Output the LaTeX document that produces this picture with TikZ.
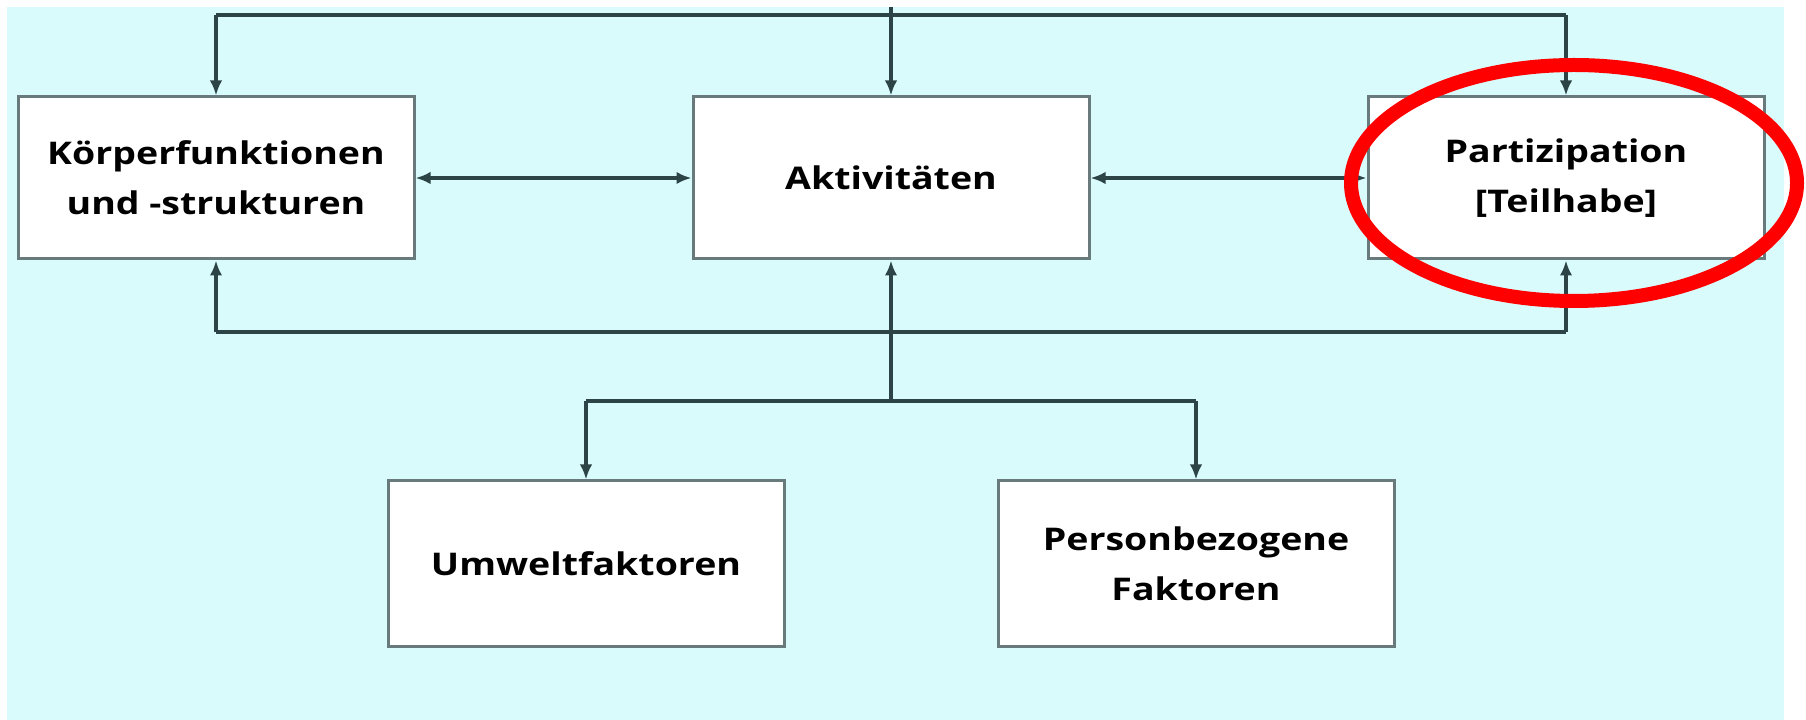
\documentclass[tikz,border=0pt]{standalone}
\usepackage{fontspec}
\usepackage{tikz}
\usetikzlibrary{arrows.meta,calc,shapes}
\newfontfamily\icffont{Open Sans}[FakeStretch=1.2]
\definecolor{bgcyan}{RGB}{218,251,251}
\definecolor{linegray}{RGB}{45,68,70}
\definecolor{boxgray}{RGB}{105,122,124}

\begin{document}
\begin{tikzpicture}
\tikzstyle{rect}=[rectangle, draw=boxgray, line width=1.2pt, fill=white, align=center, node distance=270pt, minimum width=158.4pt, minimum height=64.8pt, font=\icffont\bfseries\fontsize{12.5}{20}\selectfont]
\tikzstyle{low}=[rect, minimum height=66.4pt]
\tikzstyle{line}=[draw=linegray, line width=1.3pt]
\tikzstyle{connect}=[line, -{Latex[length=6pt,width=5pt]}]
\tikzstyle{both}=[line, {Latex[length=6pt,width=5pt]}-{Latex[length=6pt,width=5pt]}]

  \useasboundingbox (0,0) rectangle (722.4pt,-288pt);
  \fill[bgcyan] (2.8pt,-2.8pt) rectangle (713.6pt,-288pt);

  \node[rect] (koerper)  at (86.4pt,-71.2pt)                    {K\"orperfunktionen\\und -strukturen};
  \node[rect] (akt)      [right of =koerper]                    {Aktivit\"aten};
  \node[rect] (partizip) [right of =akt]                        {Partizipation\\{[}Teilhabe{]}};

  \node[low]  (umwelt)   [below of =akt, xshift=-122pt, yshift=115.6pt] {Umweltfaktoren};
  \node[low]  (person)   [below of =akt, xshift=122pt,  yshift=115.6pt] {Personbezogene\\Faktoren};

  % rails above, below and between the rows
  \coordinate (top)    at (akt.north |- 0,-2.8pt);
  \coordinate (tk)     at (koerper.north |- 0,-6pt);
  \coordinate (tp)     at (partizip.north |- 0,-6pt);
  \coordinate (bk)     at (koerper.south |- 0,-132.8pt);
  \coordinate (bp)     at (partizip.south |- 0,-132.8pt);
  \coordinate (ba)     at (akt.south |- 0,-160.4pt);
  \coordinate (bu)     at (umwelt.north |- 0,-160.4pt);
  \coordinate (bpf)    at (person.north |- 0,-160.4pt);

  \path[line] (tk) -- (tp);
  \path[line] (bk) -- (bp);
  \path[line] (bu) -- (bpf);

  \path[connect] (top) -- (akt.north);
  \path[connect] (tk) -- (koerper.north);
  \path[connect] (tp) -- (partizip.north);
  \path[connect] (bk) -- (koerper.south);
  \path[connect] (bp) -- (partizip.south);
  \path[connect] (ba) -- (akt.south);
  \path[connect] (bu) -- (umwelt.north);
  \path[connect] (bpf) -- (person.north);

  \path[both] (koerper) -- (akt);
  \path[both] (akt) -- (partizip);

  \draw[red, line width=5.6pt] ([shift={(3.2pt,-2pt)}]partizip.center) ellipse [x radius=89.2pt, y radius=47.2pt];

\end{tikzpicture}
\end{document}
